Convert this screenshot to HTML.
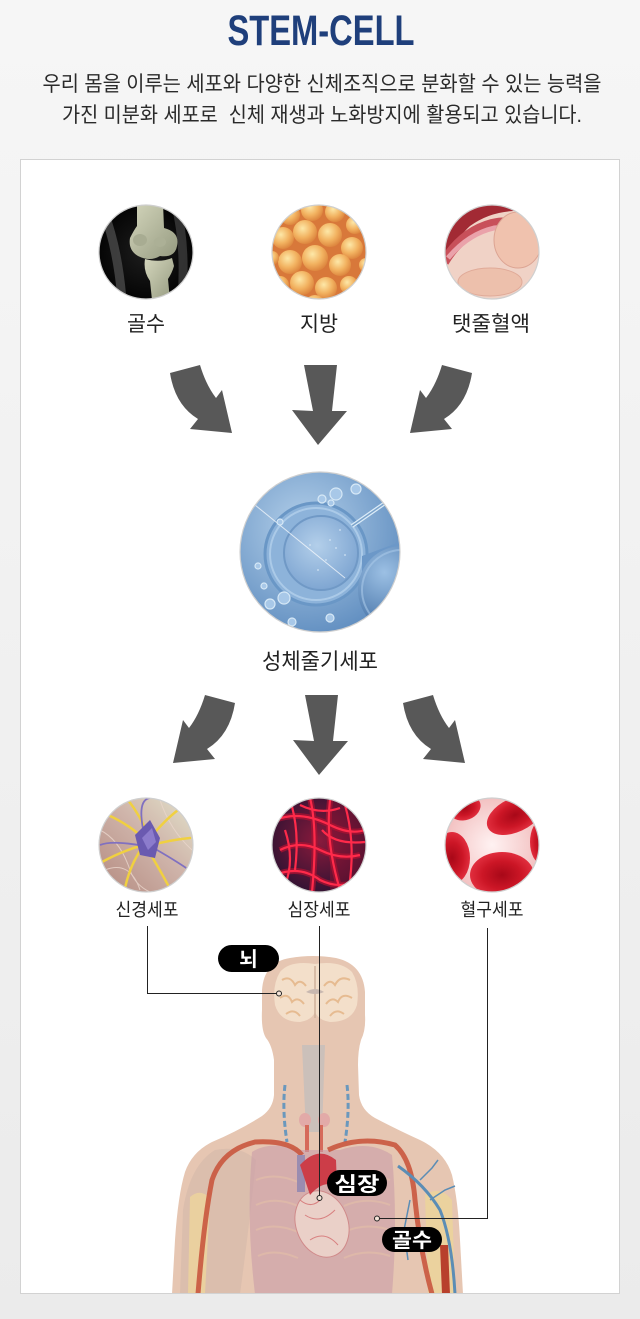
<!DOCTYPE html>
<html><head><meta charset="utf-8">
<style>
html,body{margin:0;padding:0;}
body{width:640px;height:1319px;overflow:hidden;background:linear-gradient(#f6f6f6,#ebebeb);}
svg{display:block;}
text{font-family:"Liberation Sans","Noto Sans CJK KR",sans-serif;}
</style></head><body>
<svg width="640" height="1319" viewBox="0 0 640 1319" xmlns="http://www.w3.org/2000/svg">
<defs>
<clipPath id="c1"><circle cx="146" cy="252" r="47"/></clipPath>
<clipPath id="c2"><circle cx="319" cy="252" r="47"/></clipPath>
<clipPath id="c3"><circle cx="492" cy="252" r="47"/></clipPath>
<clipPath id="c4"><circle cx="320" cy="552" r="80"/></clipPath>
<clipPath id="c5"><circle cx="146" cy="845" r="47"/></clipPath>
<clipPath id="c6"><circle cx="319" cy="845" r="47"/></clipPath>
<clipPath id="c7"><circle cx="492" cy="845" r="47"/></clipPath>
<clipPath id="box"><rect x="21" y="160" width="598" height="1133"/></clipPath>
<radialGradient id="fb" cx=".4" cy=".35" r=".65"><stop offset="0" stop-color="#fde8a8"/><stop offset=".6" stop-color="#f2b260"/><stop offset="1" stop-color="#de8840"/></radialGradient>
<radialGradient id="sb" cx=".4" cy=".35" r=".75"><stop offset="0" stop-color="#b4d0ea"/><stop offset="1" stop-color="#5a89bd"/></radialGradient>
<radialGradient id="sc" cx=".45" cy=".4" r=".6"><stop offset="0" stop-color="#b3cfea"/><stop offset="1" stop-color="#7fa6d2"/></radialGradient>
<radialGradient id="ss" cx=".3" cy=".3" r=".8"><stop offset="0" stop-color="#9cc0e4"/><stop offset="1" stop-color="#33629a"/></radialGradient>
<linearGradient id="nb" x1="0" y1="1" x2="1" y2="0"><stop offset="0" stop-color="#b48a80"/><stop offset=".55" stop-color="#cfb4aa"/><stop offset="1" stop-color="#e2e2ca"/></linearGradient>
<radialGradient id="hb" cx=".5" cy=".45" r=".6"><stop offset="0" stop-color="#8a1a3c"/><stop offset="1" stop-color="#2c1232"/></radialGradient>
<radialGradient id="bb" cx=".5" cy=".5" r=".6"><stop offset="0" stop-color="#fff2f2"/><stop offset="1" stop-color="#f0b8b8"/></radialGradient>
<radialGradient id="rb" cx=".5" cy=".5" r=".55"><stop offset="0" stop-color="#a80818"/><stop offset=".55" stop-color="#cc1626"/><stop offset="1" stop-color="#e63444"/></radialGradient>
<radialGradient id="kb" cx=".5" cy=".5" r=".6"><stop offset="0" stop-color="#1e1e1e"/><stop offset="1" stop-color="#000"/></radialGradient>
<linearGradient id="bn" x1="0" y1="0" x2="1" y2="1"><stop offset="0" stop-color="#d4d6bc"/><stop offset="1" stop-color="#959a80"/></linearGradient>
</defs>

<!-- white box -->
<rect x="20.5" y="159.5" width="599" height="1134" fill="#fff" stroke="#d2d2d2" stroke-width="1"/>

<!-- title -->
<text x="321" y="45" font-size="43" font-weight="bold" fill="#1f3f7b" text-anchor="middle" textLength="187" lengthAdjust="spacingAndGlyphs">STEM-CELL</text>
<text x="322" y="91" font-size="21" fill="#2a2a2a" text-anchor="middle" textLength="559" lengthAdjust="spacingAndGlyphs">우리 몸을 이루는 세포와 다양한 신체조직으로 분화할 수 있는 능력을</text>
<text x="322" y="122" font-size="21" fill="#2a2a2a" text-anchor="middle" textLength="520" lengthAdjust="spacingAndGlyphs">가진 미분화 세포로&#160; 신체 재생과 노화방지에 활용되고 있습니다.</text>

<!-- bone circle -->
<g clip-path="url(#c1)">
<rect x="99" y="205" width="94" height="94" fill="url(#kb)"/>
<path d="M104,212 Q118,250 122,300" stroke="#4a4a4a" stroke-width="9" fill="none" opacity=".8"/>
<path d="M176,206 Q186,245 182,300" stroke="#3c3c3c" stroke-width="9" fill="none" opacity=".8"/>
<path d="M137,203 L163,203 L164,228 Q180,232 177,246 Q175,258 160,256 Q150,262 138,256 Q128,250 130,238 Q134,230 137,226 Z" fill="url(#bn)"/>
<path d="M145,259 Q160,263 172,258 L174,266 Q172,273 168,279 L170,300 L152,300 L150,281 Q143,271 145,259 Z" fill="url(#bn)"/>
<ellipse cx="140" cy="240" rx="7" ry="6" fill="#a8ac92"/>
<ellipse cx="160" cy="242" rx="6" ry="5" fill="#acb096"/>
</g>
<circle cx="146" cy="252" r="47" fill="none" stroke="#cfcfcf" stroke-width="1.2"/>

<!-- fat circle -->
<g clip-path="url(#c2)">
<rect x="272" y="205" width="94" height="94" fill="#d8783a"/>
<g fill="url(#fb)">
<circle cx="290" cy="215" r="10"/><circle cx="312" cy="210" r="11"/><circle cx="335" cy="212" r="10"/><circle cx="355" cy="225" r="9"/>
<circle cx="283" cy="238" r="11"/><circle cx="305" cy="232" r="12"/><circle cx="330" cy="235" r="12"/><circle cx="352" cy="248" r="11"/>
<circle cx="290" cy="262" r="12"/><circle cx="315" cy="258" r="13"/><circle cx="340" cy="265" r="11"/><circle cx="280" cy="285" r="9"/>
<circle cx="302" cy="283" r="12"/><circle cx="326" cy="288" r="11"/><circle cx="349" cy="285" r="9"/><circle cx="315" cy="305" r="10"/>
<circle cx="290" cy="300" r="8"/><circle cx="338" cy="305" r="8"/><circle cx="272" cy="258" r="7"/><circle cx="366" cy="265" r="7"/>
</g>
</g>
<circle cx="319" cy="252" r="47" fill="none" stroke="#cfcfcf" stroke-width="1.2"/>

<!-- placenta circle -->
<g clip-path="url(#c3)">
<rect x="445" y="205" width="94" height="94" fill="#f0d2c6"/>
<path d="M440,200 L545,200 L545,214 Q500,204 470,226 Q452,242 440,280 Z" fill="#a22a34"/>
<path d="M444,262 Q462,232 492,224 Q510,220 520,226" stroke="#c8505a" stroke-width="10" fill="none"/>
<path d="M448,258 Q468,234 494,228 Q508,226 506,240" stroke="#eaa2aa" stroke-width="5" fill="none"/>
<ellipse cx="518" cy="240" rx="24" ry="28" fill="#f0c2ae" stroke="#dca493" stroke-width="1"/>
<ellipse cx="490" cy="282" rx="32" ry="14" fill="#edc0ac" stroke="#e0aa98" stroke-width="1"/>
</g>
<circle cx="492" cy="252" r="47" fill="none" stroke="#cfcfcf" stroke-width="1.2"/>

<!-- top labels -->
<text x="146" y="331" font-size="21" fill="#222" text-anchor="middle" textLength="38" lengthAdjust="spacingAndGlyphs">골수</text>
<text x="319" y="331" font-size="21" fill="#222" text-anchor="middle" textLength="38" lengthAdjust="spacingAndGlyphs">지방</text>
<text x="491" y="331" font-size="21" fill="#222" text-anchor="middle" textLength="78" lengthAdjust="spacingAndGlyphs">탯줄혈액</text>

<!-- top arrows -->
<g fill="#585858">
<path transform="translate(170,365)" d="M0,8 L30,0 Q36,20 46,33 L52,25 L62,68 L20,64 L28,54 Q5,40 0,8 Z"/>
<path transform="translate(472,365) scale(-1,1)" d="M0,8 L30,0 Q36,20 46,33 L52,25 L62,68 L20,64 L28,54 Q5,40 0,8 Z"/>
<path transform="translate(304,365)" d="M0,0 L33,0 L28,46 L43,46 L14,80 L-12,45 L9,46 Z"/>
</g>

<!-- stem cell circle -->
<g clip-path="url(#c4)">
<rect x="240" y="472" width="160" height="160" fill="url(#sb)"/>
<circle cx="316" cy="554" r="51" fill="#8db3da" stroke="#6a97c6" stroke-width="3"/>
<circle cx="316" cy="554" r="46" fill="none" stroke="#b8d4ee" stroke-width="2" opacity=".7"/>
<circle cx="321" cy="553" r="37" fill="url(#sc)" stroke="#7099c6" stroke-width="2"/>
<g fill="#d8e8f6" opacity=".7"><circle cx="330" cy="540" r="1"/><circle cx="336" cy="548" r="1"/><circle cx="326" cy="560" r="1"/><circle cx="340" cy="530" r="1"/><circle cx="310" cy="545" r="1"/><circle cx="318" cy="570" r="1"/><circle cx="345" cy="555" r="1"/></g>
<path d="M400,542 L362,556 L362,574 L400,580 Z" fill="#6c98c8"/>
<circle cx="402" cy="590" r="44" fill="url(#ss)"/>
<circle cx="402" cy="590" r="40" fill="none" stroke="#a8c8e8" stroke-width="2" opacity=".6"/>
<path d="M352,526 L398,494" stroke="#dcecf8" stroke-width="4"/>
<path d="M352,526 L398,494" stroke="#7ca4cc" stroke-width="1.5"/>
<path d="M255,505 L345,578" stroke="#ffffff" stroke-width="1" opacity=".7"/>
<g fill="#a8c8e8" stroke="#d6e8f6" stroke-width="1.2">
<circle cx="270" cy="604" r="5"/><circle cx="264" cy="586" r="3"/><circle cx="284" cy="598" r="6"/><circle cx="292" cy="622" r="4"/>
<circle cx="322" cy="499" r="4"/><circle cx="336" cy="494" r="6"/><circle cx="331" cy="503" r="3"/><circle cx="356" cy="489" r="5"/>
<circle cx="280" cy="522" r="3"/><circle cx="258" cy="566" r="3"/><circle cx="330" cy="618" r="4"/>
</g>
</g>
<circle cx="320" cy="552" r="80" fill="none" stroke="#cfcfcf" stroke-width="1.2"/>
<text x="320" y="669" font-size="22" fill="#222" text-anchor="middle" textLength="116" lengthAdjust="spacingAndGlyphs">성체줄기세포</text>

<!-- bottom arrows -->
<g fill="#585858">
<path transform="translate(235,695) scale(-1,1)" d="M0,8 L30,0 Q36,20 46,33 L52,25 L62,68 L20,64 L28,54 Q5,40 0,8 Z"/>
<path transform="translate(403,695)" d="M0,8 L30,0 Q36,20 46,33 L52,25 L62,68 L20,64 L28,54 Q5,40 0,8 Z"/>
<path transform="translate(305,695)" d="M0,0 L33,0 L28,46 L43,46 L14,80 L-12,45 L9,46 Z"/>
</g>

<!-- neuron circle -->
<g clip-path="url(#c5)">
<rect x="99" y="798" width="94" height="94" fill="url(#nb)"/>
<g stroke="#ead6cc" stroke-width="1" fill="none" opacity=".8">
<path d="M100,830 Q120,840 130,870 Q135,885 150,892"/><path d="M160,800 Q170,830 192,850"/><path d="M105,870 Q130,860 140,890"/>
</g>
<g stroke="#f0d040" stroke-width="2.5" fill="none" stroke-linecap="round">
<path d="M145,840 Q130,825 108,815"/><path d="M148,835 Q140,815 128,800"/><path d="M150,838 Q165,820 178,810"/>
<path d="M152,845 Q170,840 190,838"/><path d="M148,850 Q160,870 168,885"/><path d="M142,848 Q130,865 125,888"/><path d="M140,846 Q120,852 102,862"/>
</g>
<g stroke="#8070c0" stroke-width="1.8" fill="none">
<path d="M146,842 Q135,800 150,798"/><path d="M150,846 Q175,860 192,872"/><path d="M144,846 Q112,840 100,845"/>
</g>
<path d="M135,835 L150,820 L160,838 L155,858 L140,855 Z" fill="#6a5ab0"/>
<path d="M142,838 L152,828 L156,842 L148,850 Z" fill="#8c7ccc"/>
</g>
<circle cx="146" cy="845" r="47" fill="none" stroke="#cfcfcf" stroke-width="1.2"/>

<!-- heart cells circle -->
<g clip-path="url(#c6)">
<rect x="272" y="798" width="94" height="94" fill="url(#hb)"/>
<rect x="330" y="798" width="40" height="94" fill="#a01030" opacity=".35"/>
<g stroke="#b01232" stroke-width="6" fill="none" opacity=".7">
<path d="M275,820 Q300,810 330,825 Q350,835 365,830"/><path d="M310,798 Q318,830 312,892"/><path d="M330,800 Q325,840 340,890"/><path d="M275,875 Q300,865 320,880 Q340,890 360,880"/><path d="M280,850 Q300,840 320,850 Q340,860 360,855"/>
</g>
<g stroke="#ff2a4a" stroke-width="2.2" fill="none">
<path d="M275,820 Q300,810 330,825 Q350,835 365,830"/><path d="M280,850 Q300,840 320,850 Q340,860 360,855"/>
<path d="M290,800 Q300,830 295,870"/><path d="M310,798 Q318,830 312,892"/><path d="M330,800 Q325,840 340,890"/>
<path d="M345,805 Q355,840 350,880"/><path d="M275,875 Q300,865 320,880 Q340,890 360,880"/><path d="M285,830 Q295,860 285,885"/>
<path d="M300,805 Q320,815 340,808"/><path d="M322,830 Q335,845 365,842"/>
</g>
</g>
<circle cx="319" cy="845" r="47" fill="none" stroke="#cfcfcf" stroke-width="1.2"/>

<!-- blood circle -->
<g clip-path="url(#c7)">
<rect x="445" y="798" width="94" height="94" fill="url(#bb)"/>
<ellipse cx="465" cy="808" rx="16" ry="12" transform="rotate(-20 465 808)" fill="url(#rb)"/>
<ellipse cx="515" cy="815" rx="30" ry="17" transform="rotate(-25 515 815)" fill="url(#rb)"/>
<ellipse cx="452" cy="858" rx="18" ry="26" fill="url(#rb)"/>
<ellipse cx="502" cy="875" rx="32" ry="23" fill="url(#rb)"/>
<ellipse cx="542" cy="842" rx="12" ry="22" fill="url(#rb)"/>
</g>
<circle cx="492" cy="845" r="47" fill="none" stroke="#cfcfcf" stroke-width="1.2"/>

<!-- bottom labels -->
<text x="147" y="916" font-size="18" fill="#222" text-anchor="middle" textLength="63" lengthAdjust="spacingAndGlyphs">신경세포</text>
<text x="319" y="916" font-size="18" fill="#222" text-anchor="middle" textLength="63" lengthAdjust="spacingAndGlyphs">심장세포</text>
<text x="492" y="916" font-size="18" fill="#222" text-anchor="middle" textLength="63" lengthAdjust="spacingAndGlyphs">혈구세포</text>

<!-- body -->
<g clip-path="url(#box)">
<path d="M172,1294 L175,1240 Q178,1195 185,1172 Q192,1152 212,1142 Q240,1130 262,1116 Q273,1108 274,1095 L274,1060 Q272,1045 266,1038 Q261,1030 262,1010 L262,990 Q264,962 290,958 Q313,954 336,958 Q363,964 365,992 L365,1015 Q366,1030 361,1040 Q358,1050 358,1065 L359,1095 Q361,1110 375,1118 Q398,1130 420,1140 Q445,1152 452,1175 Q458,1200 460,1240 L463,1294 Z" fill="#e6c6b2"/>
<path d="M180,1294 L183,1210 Q190,1165 215,1150 Q240,1145 256,1160 Q250,1220 240,1294 Z" fill="#d8bcab" opacity=".8"/>
<path d="M190,1197 Q200,1188 210,1198 L205,1294 L188,1294 Z" fill="#ecd49c" opacity=".85"/>
<path d="M425,1195 Q440,1185 452,1200 L455,1294 L428,1294 Z" fill="#ebd39a" opacity=".85"/>
<path d="M440,1245 L448,1245 L450,1294 L442,1294 Z" fill="#b8402c"/>
<!-- brain -->
<path d="M315,964 Q290,960 280,972 Q272,985 275,1005 Q280,1022 300,1022 Q312,1020 315,1012 Q318,1020 330,1022 Q352,1022 357,1005 Q360,985 352,972 Q340,960 315,964 Z" fill="#f3dfca"/>
<g stroke="#e3b384" stroke-width="2" fill="none" opacity=".8">
<path d="M282,980 Q290,975 295,985 Q300,978 306,986"/><path d="M280,998 Q288,992 292,1002 Q298,996 304,1004"/><path d="M286,1014 Q294,1008 300,1016"/>
<path d="M324,986 Q330,978 335,985 Q340,975 350,980"/><path d="M326,1004 Q332,996 338,1002 Q342,992 352,998"/><path d="M330,1016 Q336,1008 344,1014"/>
</g>
<path d="M315,966 L315,1018" stroke="#cfb09a" stroke-width="1.5"/>
<path d="M306,992 Q315,986 324,992 Q315,996 306,992 Z" fill="#c8b8b0"/>
<!-- trachea -->
<path d="M302,1045 L325,1045 L322,1132 L306,1132 Z" fill="#cbc0ba"/>
<ellipse cx="305" cy="1120" rx="6" ry="7" fill="#e2aaa8"/><ellipse cx="324" cy="1120" rx="6" ry="7" fill="#e2aaa8"/>
<path d="M307,1125 L307,1152 M321,1125 L321,1152" stroke="#d66a5a" stroke-width="4"/>
<path d="M285,1085 Q282,1110 287,1142 M347,1085 Q350,1110 345,1142" stroke="#6a98bd" stroke-width="3" fill="none" stroke-dasharray="6 3"/>
<!-- lungs -->
<path d="M252,1152 Q270,1140 300,1150 L340,1150 Q370,1140 392,1155 Q398,1220 392,1294 L255,1294 Q246,1220 252,1152 Z" fill="#c99ca8" opacity=".6"/>
<g stroke="#e4c0a8" stroke-width="2" fill="none" opacity=".6">
<path d="M256,1180 Q275,1172 298,1182"/><path d="M256,1205 Q275,1196 298,1206"/><path d="M256,1230 Q275,1222 298,1232"/><path d="M258,1256 Q275,1248 298,1258"/>
<path d="M344,1182 Q366,1172 390,1180"/><path d="M344,1206 Q366,1196 390,1205"/><path d="M344,1232 Q366,1222 390,1230"/><path d="M344,1258 Q366,1248 390,1256"/>
</g>
<!-- arteries -->
<path d="M302,1155 Q290,1140 255,1142 Q222,1150 212,1180 Q204,1220 198,1294" stroke="#c9573e" stroke-width="5" fill="none" opacity=".9"/>
<path d="M328,1150 Q360,1135 395,1145 Q412,1160 415,1200 Q420,1250 432,1294" stroke="#c9573e" stroke-width="5" fill="none" opacity=".9"/>
<path d="M398,1166 Q425,1185 440,1210 Q452,1240 455,1294" stroke="#5b8db5" stroke-width="3" fill="none"/>
<path d="M420,1180 L432,1168 L438,1160 M430,1200 L445,1190 L455,1186 M410,1200 L404,1230 L408,1260" stroke="#5b8db5" stroke-width="1.5" fill="none"/>
<!-- heart -->
<path d="M297,1155 L305,1155 L305,1192 L297,1192 Z" fill="#9a8cb0"/>
<ellipse cx="322" cy="1224" rx="26" ry="34" transform="rotate(-20 322 1224)" fill="#ead0c8" stroke="#d08a8a" stroke-width="1"/>
<path d="M300,1165 Q318,1145 336,1160 L337,1188 Q325,1178 310,1195 Z" fill="#cc3d48"/>
<path d="M305,1215 Q320,1225 335,1210 M310,1240 Q325,1230 338,1245 M300,1200 Q312,1210 322,1198" stroke="#d88080" stroke-width="1" fill="none"/>
</g>

<!-- connectors -->
<g stroke="#222" stroke-width="1" fill="none">
<path d="M147.5,926 V993.5 H277"/>
<path d="M319.5,926 V1196"/>
<path d="M487.5,928 V1218.5 H379"/>
</g>
<g fill="#f4e4d8" stroke="#222" stroke-width="1">
<circle cx="279" cy="993.5" r="2.5"/><circle cx="319.5" cy="1198" r="2.5"/><circle cx="377" cy="1218.5" r="2.5"/>
</g>

<!-- pills -->
<rect x="218" y="945" width="61" height="27" rx="13.5" fill="#000"/>
<text x="248.5" y="966" font-size="20" font-weight="bold" fill="#fff" text-anchor="middle">뇌</text>
<rect x="327" y="1170" width="60" height="26" rx="13" fill="#000"/>
<text x="357" y="1191" font-size="20" font-weight="bold" fill="#fff" text-anchor="middle" textLength="45" lengthAdjust="spacingAndGlyphs">심장</text>
<rect x="382" y="1227" width="60" height="25" rx="12.5" fill="#000"/>
<text x="412" y="1247" font-size="20" font-weight="bold" fill="#fff" text-anchor="middle" textLength="40" lengthAdjust="spacingAndGlyphs">골수</text>
</svg>
</body></html>
